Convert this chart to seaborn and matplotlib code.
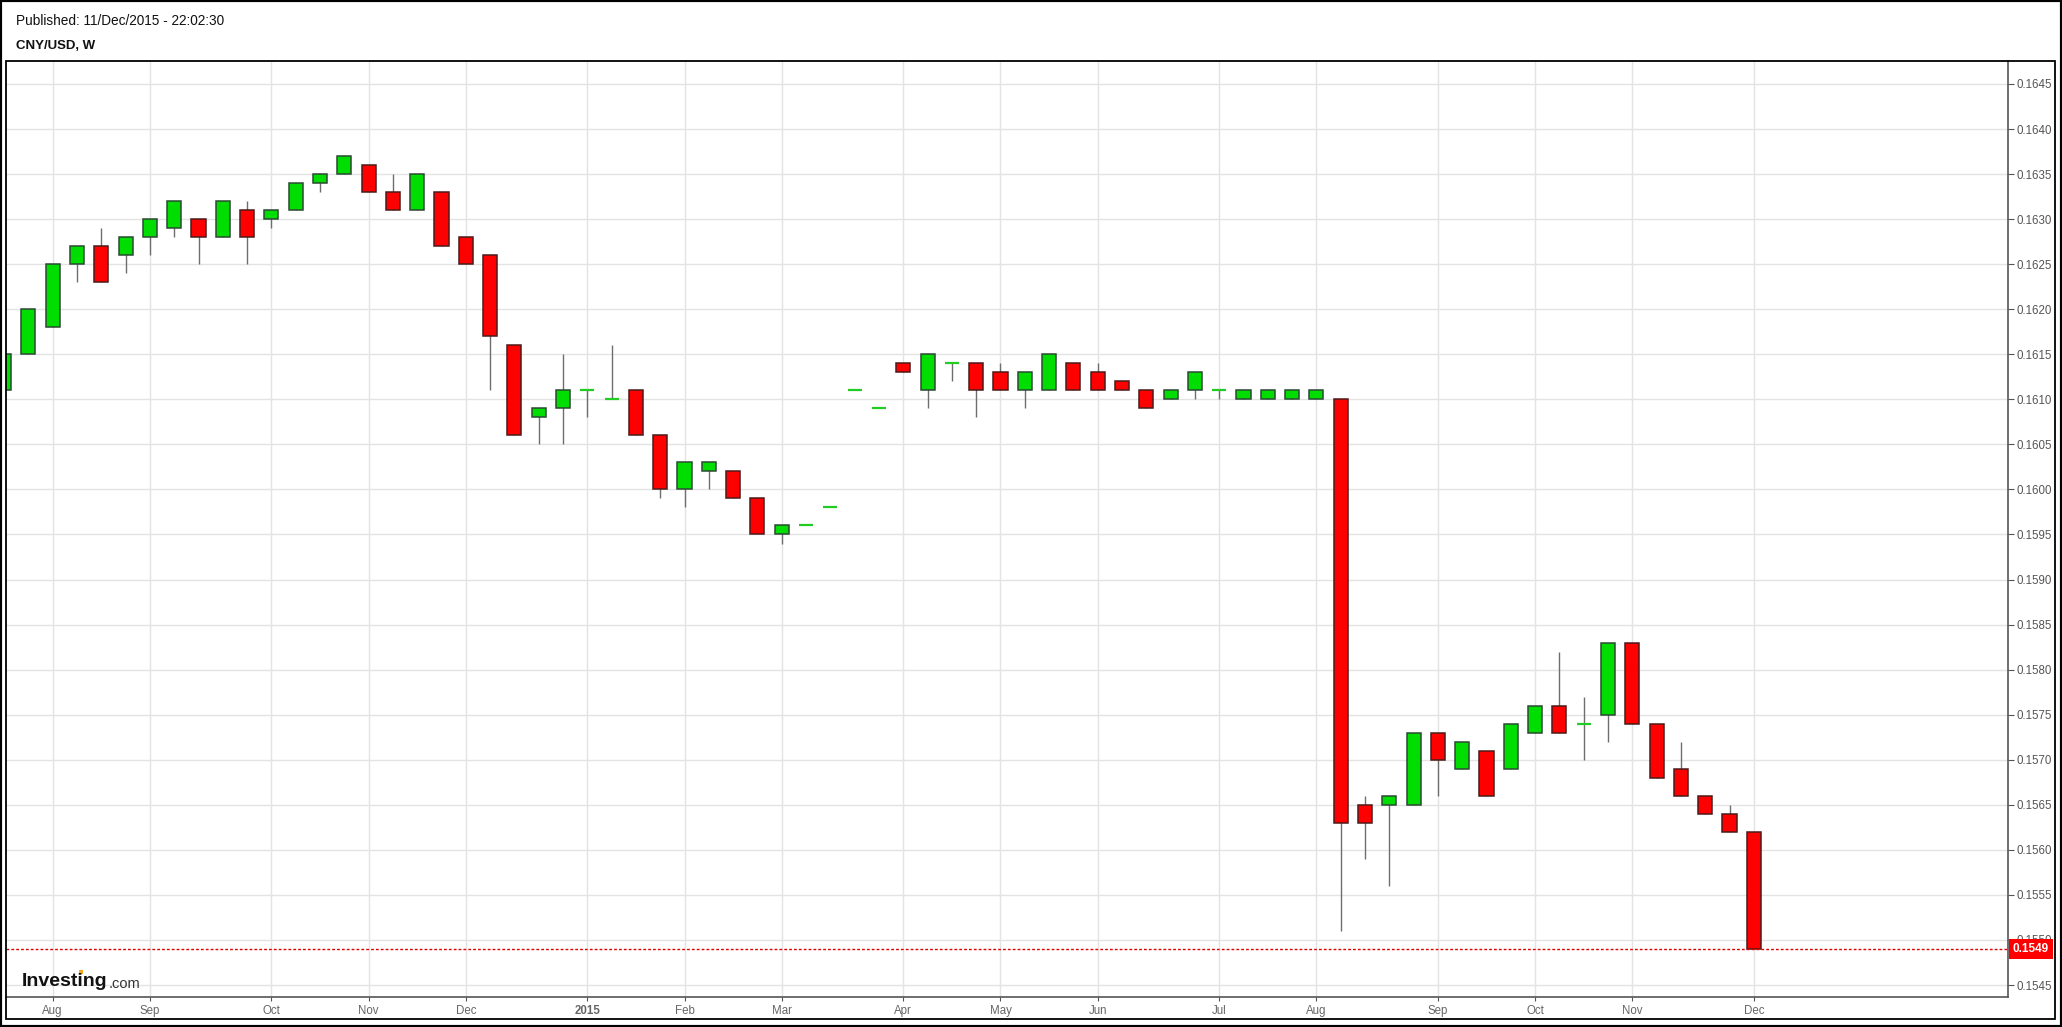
import numpy as np
import pandas as pd
import matplotlib
matplotlib.use("Agg")
import matplotlib.pyplot as plt
from matplotlib.patches import Rectangle
import seaborn as sns

# weekly CNY/USD candles, weeks starting Monday 21 Jul 2014
opens = [0.1611, 0.1615, 0.1618, 0.1625, 0.1627, 0.1626, 0.1628, 0.1629, 0.1630, 0.1628,
         0.1631, 0.1630, 0.1631, 0.1634, 0.1635, 0.1636, 0.1633, 0.1631, 0.1633, 0.1628,
         0.1626, 0.1616, 0.1608, 0.1609, 0.1611, 0.1610, 0.1611, 0.1606, 0.1600, 0.1602,
         0.1602, 0.1599, 0.1595, 0.1596, 0.1598, 0.1611, 0.1609, 0.1614, 0.1611, 0.1614,
         0.1614, 0.1613, 0.1611, 0.1611, 0.1614, 0.1613, 0.1612, 0.1611, 0.1610, 0.1611,
         0.1611, 0.1610, 0.1610, 0.1610, 0.1610, 0.1610, 0.1565, 0.1565, 0.1565, 0.1573,
         0.1569, 0.1571, 0.1569, 0.1573, 0.1576, 0.1574, 0.1575, 0.1583, 0.1574, 0.1569,
         0.1566, 0.1564, 0.1562]
closes = [0.1615, 0.1620, 0.1625, 0.1627, 0.1623, 0.1628, 0.1630, 0.1632, 0.1628, 0.1632,
          0.1628, 0.1631, 0.1634, 0.1635, 0.1637, 0.1633, 0.1631, 0.1635, 0.1627, 0.1625,
          0.1617, 0.1606, 0.1609, 0.1611, 0.1611, 0.1610, 0.1606, 0.1600, 0.1603, 0.1603,
          0.1599, 0.1595, 0.1596, 0.1596, 0.1598, 0.1611, 0.1609, 0.1613, 0.1615, 0.1614,
          0.1611, 0.1611, 0.1613, 0.1615, 0.1611, 0.1611, 0.1611, 0.1609, 0.1611, 0.1613,
          0.1611, 0.1611, 0.1611, 0.1611, 0.1611, 0.1563, 0.1563, 0.1566, 0.1573, 0.1570,
          0.1572, 0.1566, 0.1574, 0.1576, 0.1573, 0.1574, 0.1583, 0.1574, 0.1568, 0.1566,
          0.1564, 0.1562, 0.1549]
highs = [0.1615, 0.1620, 0.1625, 0.1627, 0.1629, 0.1628, 0.1630, 0.1632, 0.1630, 0.1632,
         0.1632, 0.1631, 0.1634, 0.1635, 0.1637, 0.1636, 0.1635, 0.1635, 0.1633, 0.1628,
         0.1626, 0.1616, 0.1609, 0.1615, 0.1611, 0.1616, 0.1611, 0.1606, 0.1603, 0.1603,
         0.1602, 0.1599, 0.1596, 0.1596, 0.1598, 0.1611, 0.1609, 0.1614, 0.1615, 0.1614,
         0.1614, 0.1614, 0.1613, 0.1615, 0.1614, 0.1614, 0.1612, 0.1611, 0.1611, 0.1613,
         0.1611, 0.1611, 0.1611, 0.1611, 0.1611, 0.1610, 0.1566, 0.1566, 0.1573, 0.1573,
         0.1572, 0.1571, 0.1574, 0.1576, 0.1582, 0.1577, 0.1583, 0.1583, 0.1574, 0.1572,
         0.1566, 0.1565, 0.1562]
lows = [0.1611, 0.1615, 0.1618, 0.1623, 0.1623, 0.1624, 0.1626, 0.1628, 0.1625, 0.1628,
        0.1625, 0.1629, 0.1631, 0.1633, 0.1635, 0.1633, 0.1631, 0.1631, 0.1627, 0.1625,
        0.1611, 0.1606, 0.1605, 0.1605, 0.1608, 0.1610, 0.1606, 0.1599, 0.1598, 0.1600,
        0.1599, 0.1595, 0.1594, 0.1596, 0.1598, 0.1611, 0.1609, 0.1613, 0.1609, 0.1612,
        0.1608, 0.1611, 0.1609, 0.1611, 0.1611, 0.1611, 0.1611, 0.1609, 0.1610, 0.1610,
        0.1610, 0.1610, 0.1610, 0.1610, 0.1610, 0.1551, 0.1559, 0.1556, 0.1565, 0.1566,
        0.1569, 0.1566, 0.1569, 0.1573, 0.1573, 0.1570, 0.1572, 0.1574, 0.1568, 0.1566,
        0.1564, 0.1562, 0.1549]
weeks = pd.date_range("2014-07-21", periods=len(opens), freq="W-MON")
last_price = 0.1549
y_ticks = np.arange(0.1545, 0.16451, 0.0005)

W, H = 2062, 1027
sns.set_theme(style="white")
plt.rcParams["font.family"] = ["Liberation Sans", "DejaVu Sans"]

fig = plt.figure(figsize=(W / 100, H / 100), dpi=100)
fig.patch.set_facecolor("white")


def fx(px):
    return px / W


def fy(py):
    return 1 - py / H


ax = fig.add_axes([fx(6), fy(997), fx(2008) - fx(6), fy(61) - fy(997)])
ax.set_facecolor("white")

df = pd.DataFrame({"week": weeks, "open": opens, "close": closes,
                   "high": highs, "low": lows})
df["x"] = np.arange(len(df))
up = df["close"] >= df["open"]

# wicks
ax.vlines(df["x"], df["low"], df["high"], color="#6e6e6e", lw=1.0, zorder=2)

# bodies
bw = 0.58
body_lo = np.minimum(df["open"], df["close"])
body_h = (df["close"] - df["open"]).abs()
flat = body_h < 1e-7
ax.bar(df["x"][up & ~flat], body_h[up & ~flat], bottom=body_lo[up & ~flat], width=bw,
       color="#00dd00", edgecolor="#2b4a33", linewidth=1.1, zorder=3)
ax.bar(df["x"][~up], body_h[~up], bottom=body_lo[~up], width=bw,
       color="#ff0000", edgecolor="#4d1a1a", linewidth=1.1, zorder=3)
ax.hlines(df["open"][flat], df["x"][flat] - bw / 2, df["x"][flat] + bw / 2,
          color="#22cc22", lw=1.6, zorder=3)

# last price line
ax.axhline(last_price, color="#e00000", lw=1.0, ls=(0, (2, 1.5)), zorder=4)

ax.set_xlim(0.078, 82.46)
ax.set_ylim(0.154367, 0.164755)

# month ticks at first weekly bar of each month
month_start = df.groupby(df["week"].dt.to_period("M"))["x"].min()
tick_x = [month_start[p] for p in month_start.index[1:]]
tick_lab = [str(p.year) if p.month == 1 else p.strftime("%b") for p in month_start.index[1:]]
ax.set_xticks(tick_x)
ax.set_xticklabels(tick_lab)
for t, lab in zip(ax.get_xticklabels(), tick_lab):
    if lab.isdigit():
        t.set_fontweight("bold")

ax.yaxis.tick_right()
ax.set_yticks(y_ticks)
ax.set_yticklabels([f"{v:.4f}" for v in y_ticks])

ax.grid(True, color="#e3e3e3", lw=1.0)
ax.set_axisbelow(True)
for s in ["top", "left"]:
    ax.spines[s].set_visible(False)
for s in ["right", "bottom"]:
    ax.spines[s].set_color("#555555")
    ax.spines[s].set_linewidth(1.2)
ax.tick_params(axis="y", which="both", right=True, length=4, width=0.8, color="#555555",
               labelcolor="#555555", labelsize=8.3, pad=2)
ax.tick_params(axis="x", which="both", bottom=True, length=3, width=0.8, color="#555555",
               labelcolor="#666666", labelsize=8.3, pad=3)

# last price tag
ax.annotate(f"{last_price:.4f}", xy=(1.0, last_price), xycoords=("axes fraction", "data"),
            xytext=(3.5, 0), textcoords="offset points", ha="left", va="center",
            fontsize=8.5, fontweight="bold", color="white", zorder=10, annotation_clip=False,
            bbox=dict(boxstyle="square,pad=0.3", fc="#ff0000", ec="none"))

# frames
fig.add_artist(Rectangle((fx(6), fy(1019)), fx(2055) - fx(6), fy(61) - fy(1019),
                         transform=fig.transFigure, fill=False, ec="black", lw=1.3))
fig.add_artist(Rectangle((0, 0), 1, 1, transform=fig.transFigure, fill=False,
                         ec="black", lw=3))

# header
fig.text(fx(16), fy(21), "Published: 11/Dec/2015 - 22:02:30", fontsize=9.8,
         color="#111111", va="center", ha="left")
fig.text(fx(16), fy(46), "CNY/USD, W", fontsize=9.5, fontweight="bold",
         color="#111111", va="center", ha="left")

# logo
logo = fig.text(fx(22), fy(981), "Investing", fontsize=14, fontweight="bold",
                color="#111111", va="center", ha="left")
fig.canvas.draw()
bb = logo.get_window_extent()
fig.text(bb.x1 / W + 0.0005, fy(984), ".com", fontsize=10.5, color="#333333",
         va="center", ha="left")
# orange dot over the second "i"
part = fig.text(fx(22), fy(981), "Invest", fontsize=14, fontweight="bold",
                va="center", ha="left", alpha=0)
fig.canvas.draw()
pb = part.get_window_extent()
fig.add_artist(Rectangle(((pb.x1 + 1) / W, fy(974)), 4 / W, 4 / H,
                         transform=fig.transFigure, fc="#f5a623", ec="none"))

fig.savefig("out.png", dpi=100, facecolor="white")
